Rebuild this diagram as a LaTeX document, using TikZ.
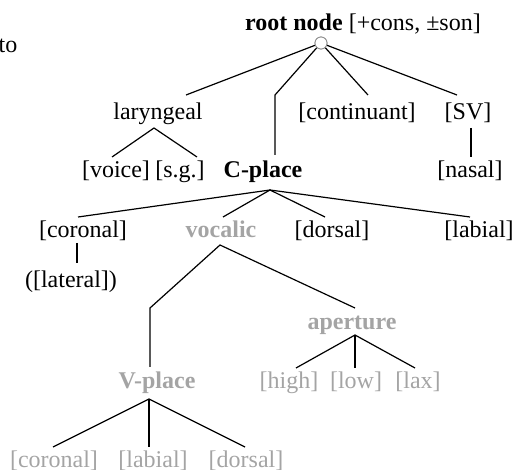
\documentclass[tikz,border=0pt]{standalone}
\usepackage{fontspec}
\setmainfont{Liberation Serif}
\definecolor{lgray}{HTML}{A4A4A4}
\definecolor{cgray}{HTML}{8A8A8A}
\begin{document}
\begin{tikzpicture}[x=1pt,y=-1pt,
  lbl/.style={inner sep=0pt, anchor=base, font=\fontsize{24}{28}\selectfont},
  glbl/.style={lbl, text=lgray},
  bold/.style={font=\fontsize{24}{28}\selectfont\bfseries},
  edge/.style={line width=1.2pt, black},
  rootc/.style={circle, draw=cgray, line width=0.8pt, fill=white, minimum size=12pt, inner sep=0pt}
]
\useasboundingbox (0,0) rectangle (515,470);
\clip (0,0) rectangle (515,470);

% text nodes
\node[lbl, anchor=base west] (to) at (-1.5,53) {to};
\node[lbl, anchor=base west] (root) at (245,31) {\textbf{root node} [+cons, ±son]};
\node[rootc] (circ) at (321,43) {};

\node[lbl] (lar) at (158,120) {laryngeal};
\node[lbl] (cont) at (357,120) {[continuant]};
\node[lbl] (sv) at (468,120) {[SV]};

\node[lbl] (voice) at (116,178) {[voice]};
\node[lbl] (sg) at (180,178) {[s.g.]};
\node[lbl, bold] (cplace) at (263,178) {C-place};
\node[lbl] (nasal) at (470,178) {[nasal]};

\node[lbl] (cor) at (83,238) {[coronal]};
\node[glbl, bold] (voc) at (221,238) {vocalic};
\node[lbl] (dor) at (332,238) {[dorsal]};
\node[lbl] (lab) at (479,238) {[labial]};

\node[lbl] (lat) at (71,288) {([lateral])};
\node[glbl, bold] (ap) at (352,330) {aperture};

\node[glbl, bold] (vplace) at (157,389) {V-place};
\node[glbl] (high) at (289,389) {[high]};
\node[glbl] (low) at (356,389) {[low]};
\node[glbl] (lax) at (418,389) {[lax]};

\node[glbl] (vcor) at (54,468) {[coronal]};
\node[glbl] (vlab) at (153,468) {[labial]};
\node[glbl] (vdor) at (246,468) {[dorsal]};

% connector end points
\coordinate (larT) at (186,95);
\coordinate (cpBend) at (275,95);
\coordinate (cpT) at (275,155);
\coordinate (contT) at (368,95);
\coordinate (svT) at (457,95);

\coordinate (larB) at (154,128);
\coordinate (voiceT) at (112,157);
\coordinate (sgT) at (197,157);
\coordinate (svB) at (471,128);
\coordinate (nasalT) at (471,157);

\coordinate (cpB) at (270,190);
\coordinate (corT) at (78,217);
\coordinate (vocT) at (223,217);
\coordinate (dorT) at (325,217);
\coordinate (labT) at (470,217);

\coordinate (corB) at (77,243);
\coordinate (latT) at (77,263);

\coordinate (vocB) at (220,245);
\coordinate (vpBend) at (150,308);
\coordinate (vpT) at (150,367);
\coordinate (apT) at (355,308);

\coordinate (apB) at (355,335);
\coordinate (highT) at (296,368);
\coordinate (lowT) at (355,368);
\coordinate (laxT) at (415,368);

\coordinate (vpB) at (149,399);
\coordinate (vcorT) at (53,447);
\coordinate (vlabT) at (149,447);
\coordinate (vdorT) at (245,447);

% connectors
\draw[edge] (circ) -- (larT);
\draw[edge] (circ) -- (cpBend) -- (cpT);
\draw[edge] (circ) -- (contT);
\draw[edge] (circ) -- (svT);

\draw[edge] (voiceT) -- (larB) -- (sgT);
\draw[edge] (svB) -- (nasalT);

\draw[edge] (corT) -- (cpB) -- (labT);
\draw[edge] (vocT) -- (cpB) -- (dorT);

\draw[edge] (corB) -- (latT);

\draw[edge] (vpT) -- (vpBend) -- (vocB) -- (apT);

\draw[edge] (highT) -- (apB) -- (laxT);
\draw[edge] (apB) -- (lowT);

\draw[edge] (vcorT) -- (vpB) -- (vdorT);
\draw[edge] (vpB) -- (vlabT);

\node[rootc] at (circ) {};
\end{tikzpicture}
\end{document}
